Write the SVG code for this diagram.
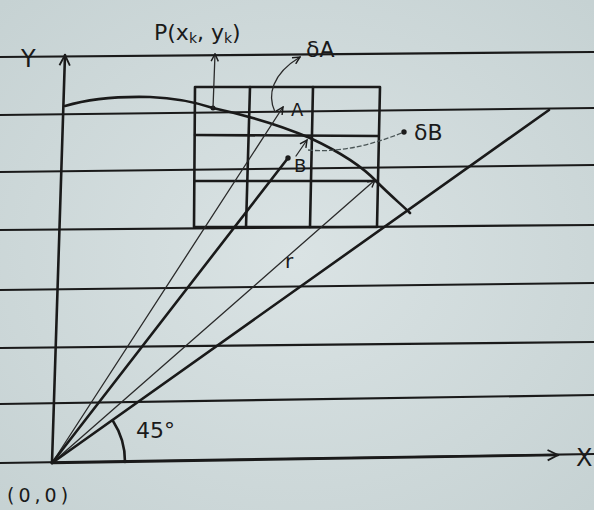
<svg xmlns="http://www.w3.org/2000/svg" width="594" height="510" viewBox="0 0 594 510">
  <defs>
    <radialGradient id="paper" cx="50%" cy="50%" r="70%">
      <stop offset="0" stop-color="#dae3e4"/>
      <stop offset="1" stop-color="#c6d2d3"/>
    </radialGradient>
    <marker id="arr" viewBox="0 0 10 10" refX="9" refY="5" markerWidth="9" markerHeight="9" markerUnits="userSpaceOnUse" orient="auto">
      <path d="M1,1 L9,5 L1,9" fill="none" stroke="#1c1c1c" stroke-width="1.6"/>
    </marker>
    <marker id="arrBig" viewBox="0 0 10 10" refX="9" refY="5" markerWidth="13" markerHeight="13" markerUnits="userSpaceOnUse" orient="auto">
      <path d="M1,1 L9,5 L1,9" fill="none" stroke="#1c1c1c" stroke-width="1.4"/>
    </marker>
    <marker id="dot" viewBox="0 0 10 10" refX="5" refY="5" markerWidth="6" markerHeight="6" markerUnits="userSpaceOnUse">
      <circle cx="5" cy="5" r="4.5" fill="#1c1c1c"/>
    </marker>
  </defs>
  <style>
    .rule { stroke: #1a1a1a; stroke-width: 2.2; fill: none; }
    .ink { stroke: #1a1a1a; stroke-width: 2.6; fill: none; stroke-linecap: round; stroke-linejoin: round; }
    .thin { stroke: #2a2a2a; stroke-width: 1.3; fill: none; stroke-linecap: round; }
    .faint { stroke: #4a5556; stroke-width: 1.3; fill: none; stroke-dasharray: 5 2; }
    .lbl { font-family: "DejaVu Sans", "Liberation Sans", sans-serif; fill: #1a1a1a; }
  </style>

  <rect width="594" height="510" fill="url(#paper)"/>

  <g id="ruled-paper">
    <line class="rule" x1="0" y1="57" x2="594" y2="52"/>
    <line class="rule" x1="0" y1="115" x2="594" y2="108"/>
    <line class="rule" x1="0" y1="172" x2="594" y2="165"/>
    <line class="rule" x1="0" y1="230" x2="594" y2="225"/>
    <line class="rule" x1="0" y1="290" x2="594" y2="283"/>
    <line class="rule" x1="0" y1="348" x2="594" y2="342"/>
    <line class="rule" x1="0" y1="404" x2="594" y2="395"/>
    <line class="rule" x1="0" y1="463" x2="594" y2="454"/>
  </g>

  <g id="axes">
    <line class="ink" x1="52" y1="463" x2="65" y2="55" marker-end="url(#arrBig)"/>
    <line class="ink" x1="52" y1="463" x2="558" y2="455" marker-end="url(#arrBig)"/>
    <text class="lbl" x="21" y="67" font-size="24">Y</text>
    <text class="lbl" x="576" y="466" font-size="24">X</text>
    <text class="lbl" x="7" y="502" font-size="19" letter-spacing="4">(0,0)</text>
  </g>

  <g id="grid">
    <path class="ink" d="M195,87 L380,87 L377,227 L194,227 Z"/>
    <line class="ink" x1="250" y1="87" x2="246" y2="227"/>
    <line class="ink" x1="313" y1="87" x2="310" y2="227"/>
    <line class="ink" x1="195" y1="135" x2="378" y2="136"/>
    <line class="ink" x1="195" y1="181" x2="377" y2="181"/>
  </g>

  <g id="curve">
    <path class="ink" d="M65,106 C85,100 110,96 150,97 C175,98 195,102 213,108 C245,115 280,125 310,138 C340,152 362,166 377,182 C392,197 402,205 410,213"/>
  </g>

  <g id="point-P">
    <circle cx="213" cy="108" r="2.5" fill="#1a1a1a"/>
    <text class="lbl" x="154" y="40" font-size="22">P(x<tspan font-size="14" dy="3">k</tspan><tspan dy="-3">, y</tspan><tspan font-size="14" dy="3">k</tspan><tspan dy="-3">)</tspan></text>
  </g>

  <g id="point-A">
    <text class="lbl" x="291" y="116" font-size="18">A</text>
    <text class="lbl" x="306" y="57" font-size="22">δA</text>
  </g>

  <g id="point-B">
    <text class="lbl" x="294" y="172" font-size="18">B</text>
    <text class="lbl" x="414" y="140" font-size="22">δB</text>
  </g>

  <g id="angle">
    <path class="ink" d="M125,462 A74,74 0 0 0 113,421" stroke-width="2.2"/>
    <text class="lbl" x="136" y="438" font-size="22">45°</text>
  </g>

  <g id="radius-label">
    <text class="lbl" x="285" y="268" font-size="20">r</text>
  </g>

  <g id="connectors">
    <line class="thin" x1="52" y1="463" x2="283" y2="107" stroke-width="1.5" marker-end="url(#arr)"/>
    <line class="ink" x1="52" y1="463" x2="288" y2="158" stroke-width="2.4" marker-end="url(#dot)"/>
    <line class="thin" x1="52" y1="463" x2="375" y2="180" marker-end="url(#arr)"/>
    <line class="ink" x1="52" y1="463" x2="549" y2="110" stroke-width="2.4"/>
    <line class="thin" x1="213" y1="108" x2="215" y2="54" marker-end="url(#arr)"/>
    <path class="thin" d="M275,112 C267,95 272,74 300,57" stroke-width="1.8" marker-end="url(#arr)"/>
    <line class="thin" x1="296" y1="156" x2="307" y2="140" marker-end="url(#arr)"/>
    <path class="faint" d="M308,150 C340,153 372,145 404,132" marker-end="url(#dot)"/>
  </g>
</svg>
